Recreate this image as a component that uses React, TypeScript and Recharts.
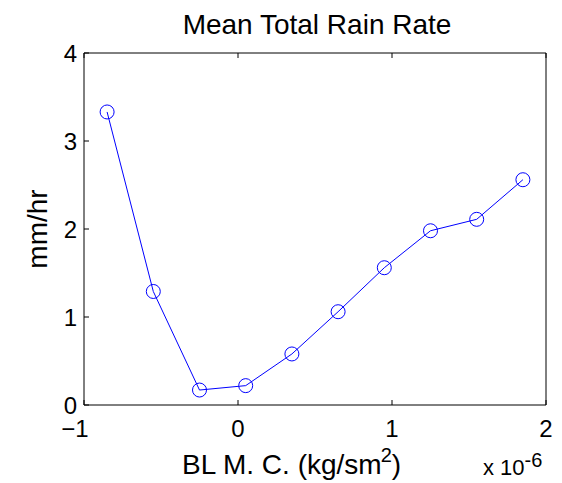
import React from 'react';
import { LineChart, Line, XAxis, YAxis } from 'recharts';

// BL moisture convergence, in units of 1e-6 kg/sm^2
const blmc = [-0.85, -0.55, -0.25, 0.05, 0.35, 0.65, 0.95, 1.25, 1.55, 1.85];
const rainRate = [3.33, 1.29, 0.17, 0.22, 0.58, 1.06, 1.56, 1.98, 2.11, 2.56];
const xTicks = [-1, 0, 1, 2];
const yTicks = [0, 1, 2, 3, 4];

const data = blmc.map((x, i) => ({ x, rate: rainRate[i] }));

const FONT = '"Liberation Sans", Arial, Helvetica, sans-serif';
const TICK = 5;

const BottomTick = (props: any) => {
    const { x, y, payload } = props;
    const v = payload.value;
    return (
        <g>
            <line x1={x} y1={y} x2={x} y2={y - TICK} stroke="#000" />
            <text x={v < 0 ? x - 9 : x} y={y + 32} textAnchor="middle" fontSize={24} fontFamily={FONT} fill="#000">
                {v < 0 ? '\u2212' + Math.abs(v) : v}
            </text>
        </g>
    );
};

const TopTick = (props: any) => {
    const { x, y } = props;
    return <line x1={x} y1={y} x2={x} y2={y + TICK} stroke="#000" />;
};

const LeftTick = (props: any) => {
    const { x, y, payload } = props;
    return (
        <g>
            <line x1={x} y1={y} x2={x + TICK} y2={y} stroke="#000" />
            <text x={x - 7} y={y + 8.5} textAnchor="end" fontSize={24} fontFamily={FONT} fill="#000">
                {payload.value}
            </text>
        </g>
    );
};

const RightTick = (props: any) => {
    const { x, y } = props;
    return <line x1={x} y1={y} x2={x - TICK} y2={y} stroke="#000" />;
};

const XLabel = (props: any) => {
    const vb = props.viewBox;
    return (
        <g fontFamily={FONT} fill="#000">
            <text x={vb.x + 98} y={vb.y + 69} fontSize={28}>
                BL M. C. (kg/sm
                <tspan dx={-1} dy={-12} fontSize={20}>2</tspan>
                <tspan dy={12}>)</tspan>
            </text>
            <text x={vb.x + 399} y={vb.y + 70} fontSize={22}>
                x 10
                <tspan dy={-8} fontSize={20}>-6</tspan>
            </text>
        </g>
    );
};

const YLabel = (props: any) => {
    const vb = props.viewBox;
    const cx = 47;
    const cy = vb.y + vb.height / 2;
    return (
        <text x={cx} y={cy} transform={`rotate(-90, ${cx}, ${cy})`} textAnchor="middle"
            fontSize={28} fontFamily={FONT} fill="#000">
            mm/hr
        </text>
    );
};

const Title = (props: any) => {
    const vb = props.viewBox;
    return (
        <text x={vb.x + vb.width / 2 + 2} y={vb.y - 18} textAnchor="middle" fontSize={28} fontFamily={FONT} fill="#000">
            Mean Total Rain Rate
        </text>
    );
};

export default function App() {
    return (
        <div style={{ position: 'absolute', left: 0, top: 0, width: 562, height: 483, background: '#fff' }}>
            <LineChart width={562} height={483} data={data} margin={{ top: 52, right: 15, bottom: 0, left: 0 }}>
                <XAxis dataKey="x" type="number" domain={[-1, 2]} ticks={xTicks} height={78}
                    axisLine={{ stroke: '#000' }} tickLine={false} tickSize={0} tickMargin={0}
                    tick={<BottomTick />} interval={0} label={(p: any) => <XLabel {...p} />} />
                <XAxis xAxisId="top" orientation="top" dataKey="x" type="number" domain={[-1, 2]} ticks={xTicks} height={1}
                    axisLine={{ stroke: '#000' }} tickLine={false} tickSize={0} tickMargin={0}
                    tick={<TopTick />} interval={0} label={(p: any) => <Title {...p} />} />
                <YAxis type="number" domain={[0, 4]} ticks={yTicks} width={84}
                    axisLine={{ stroke: '#000' }} tickLine={false} tickSize={0} tickMargin={0}
                    tick={<LeftTick />} interval={0} label={(p: any) => <YLabel {...p} />} />
                <YAxis yAxisId="right" orientation="right" type="number" domain={[0, 4]} ticks={yTicks} width={1}
                    axisLine={{ stroke: '#000' }} tickLine={false} tickSize={0} tickMargin={0}
                    tick={<RightTick />} interval={0} />
                <Line dataKey="rate" stroke="#0000ff" strokeWidth={1} isAnimationActive={false}
                    dot={{ r: 7, stroke: '#0000ff', strokeWidth: 1, fill: 'none' }} />
            </LineChart>
        </div>
    );
}
